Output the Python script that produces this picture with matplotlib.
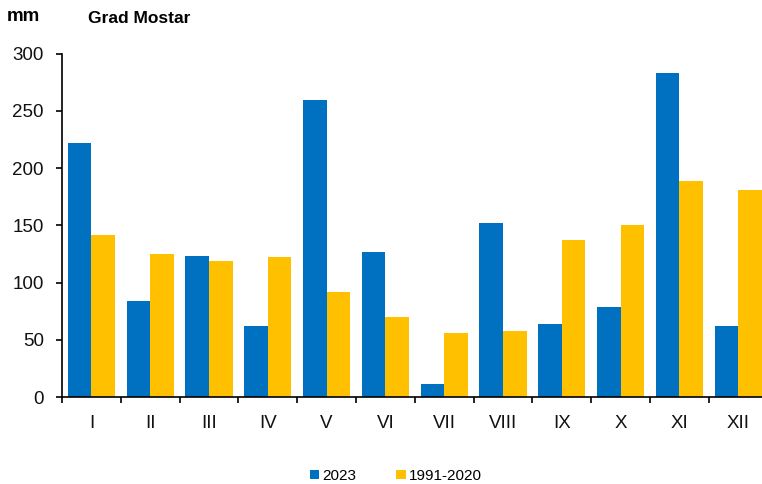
import matplotlib
matplotlib.use("Agg")
import matplotlib.pyplot as plt
import numpy as np
from matplotlib.patches import Patch

months = ["I", "II", "III", "IV", "V", "VI", "VII", "VIII", "IX", "X", "XI", "XII"]
y2023 = [222, 84, 123, 62, 259, 127, 12, 152, 64, 79, 283, 62]
normal = [142, 125, 119, 122, 92, 70, 56, 58, 137, 150, 189, 181]
yticks = [0, 50, 100, 150, 200, 250, 300]

blue = "#0070C0"
yellow = "#FFC000"
FONT = ["Liberation Sans Narrow", "Liberation Sans", "DejaVu Sans"]
plt.rcParams["font.family"] = FONT

fig = plt.figure(figsize=(7.62, 4.84), dpi=100)
ax = fig.add_axes([62 / 762, 1 - 397.3 / 484, 705.6 / 762, (397.3 - 53.5) / 484])

x = np.arange(len(months))
w = 0.4
ax.bar(x - w / 2, y2023, width=w, color=blue, edgecolor="none", label="2023")
ax.bar(x + w / 2, normal, width=w, color=yellow, edgecolor="none", label="1991-2020")

ax.set_xlim(-0.5, len(months) - 0.5)
ax.set_ylim(0, 300)
ax.set_yticks(yticks)
ax.set_yticklabels([str(t) for t in yticks], fontsize=13.5)
ax.set_xticks(x)
ax.set_xticklabels(months, fontsize=13.5)
ax.tick_params(axis="x", which="major", length=0, pad=13, colors="#111111")
ax.set_xticks(np.arange(-0.5, len(months), 1.0), minor=True)
ax.tick_params(axis="x", which="minor", length=4.5, width=1.2, direction="out", color="black")
ax.tick_params(axis="y", length=4, width=1.2, pad=9, colors="#111111")
ax.tick_params(axis="y", color="black")

for s in ["top", "right"]:
    ax.spines[s].set_visible(False)
for s in ["left", "bottom"]:
    ax.spines[s].set_linewidth(1.2)
    ax.spines[s].set_color("black")

fig.text(7 / 762, 1 - 21 / 484, "mm", fontsize=13.5, fontweight="bold", va="baseline", ha="left")
fig.text(88 / 762, 1 - 23 / 484, "Grad Mostar", fontsize=12.5, fontweight="bold", va="baseline", ha="left")

handles = [Patch(facecolor=blue, label="2023"), Patch(facecolor=yellow, label="1991-2020")]
fig.legend(handles=handles, loc="center", bbox_to_anchor=(396 / 762, 1 - 476 / 484),
           ncol=2, frameon=False, fontsize=11, handlelength=0.6, handleheight=0.6,
           handletextpad=0.25, columnspacing=2.6)

fig.savefig("out.png", dpi=100)
